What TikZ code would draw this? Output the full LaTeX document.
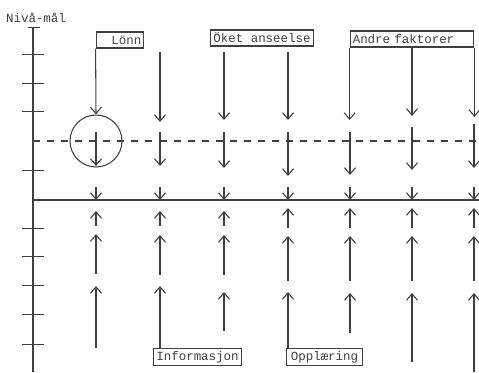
\documentclass[tikz,border=0pt]{standalone}
\usepackage{fontspec}
\setmonofont{Liberation Mono}
\usetikzlibrary{arrows.meta, positioning, shapes.geometric}

\begin{document}
\begin{tikzpicture}[x=0.02cm, y=-0.02cm, color=black!75, line width=0.6pt,
  font=\ttfamily\fontsize{7.1}{8}\selectfont,
  boks/.style={draw, rectangle, minimum height=0.32cm, inner sep=1.5pt},
  pil/.style={-{Straight Barb[length=1.3mm, width=2.2mm]}},
  merke/.style={line width=0.5pt}]
\useasboundingbox (0,0) rectangle (479,372);
\fill[white] (0,0) rectangle (479,372);

% akse med merker
\node (niva) at (36,18) {Nivå-mål};
\coordinate (aksetopp) at (33,27);
\coordinate (aksebunn) at (33,372);
\draw (aksetopp) -- (aksebunn);
\draw[merke] (28,27) -- (40,27);
\foreach \y in {54,83,111,170,228,256,285,314,344}
  \draw[merke] (22,\y) -- (44,\y);

% nivå-linjer
\coordinate (mal) at (33,141);
\coordinate (malslutt) at (479,141);
\coordinate (niv) at (33,200);
\coordinate (nivslutt) at (479,200);
\draw[dash pattern=on 4pt off 4pt] (mal) -- (malslutt);
\draw (niv) -- (nivslutt);

% bokser
\node[boks, text width=0.85cm, align=right] (lonn) at (120,40) {Lönn};
\node[boks, minimum width=2.04cm] (oket) at (262,38) {Öket anseelse};
\node[boks, text width=2.37cm, align=left] (andre) at (412,39) {Andre faktorer};
\node[boks, minimum width=1.7cm] (info) at (197.5,357) {Informasjon};
\node[boks, minimum width=1.52cm] (oppl) at (324.5,357) {Opplæring};
\node[circle, draw, minimum size=1.04cm, inner sep=0pt] (ring) at (96,141) {};

% piler fra boksene
\draw[pil] (lonn.south west) -- (ring.north);
\draw[pil] (andre.south west) -- (andre.south west |- 0,120);
\draw[pil] (andre.south east) -- (andre.south east |- 0,117);
\draw[pil] (info.north -| 160,0) -- (160,286);
\draw[pil] (oppl.north -| 288,0) -- (288,292);

% øvrige piler: navn/x/fra/til
\foreach \n/\x/\ya/\yb in {
  a2/96/132/166, a3/96/187/200, a4/96/226/211, a5/96/274/234, a6/96/348/286,
  b1/160/52/122, b2/160/132/166, b3/160/187/200, b4/160/226/211, b5/160/275/235,
  c1/224/52/120, c2/224/132/168, c3/224/187/200, c4/224/226/211, c5/224/275/235, c6/224/331/292,
  d1/288/52/120, d2/288/132/176, d3/288/187/200, d4/288/228/208, d5/288/281/236,
  e2/350/132/175, e3/350/187/200, e4/350/228/208, e5/350/281/236, e6/350/333/293,
  f1/412/48/116, f2/412/127/170, f3/412/187/200, f4/412/228/208, f5/412/281/236, f6/412/362/293,
  g2/474/124/168, g3/474/187/200, g4/474/228/208, g5/474/281/236, g6/474/372/293}{
  \coordinate (\n s) at (\x,\ya);
  \coordinate (\n e) at (\x,\yb);
  \draw[pil] (\n s) -- (\n e);
}
\end{tikzpicture}
\end{document}
